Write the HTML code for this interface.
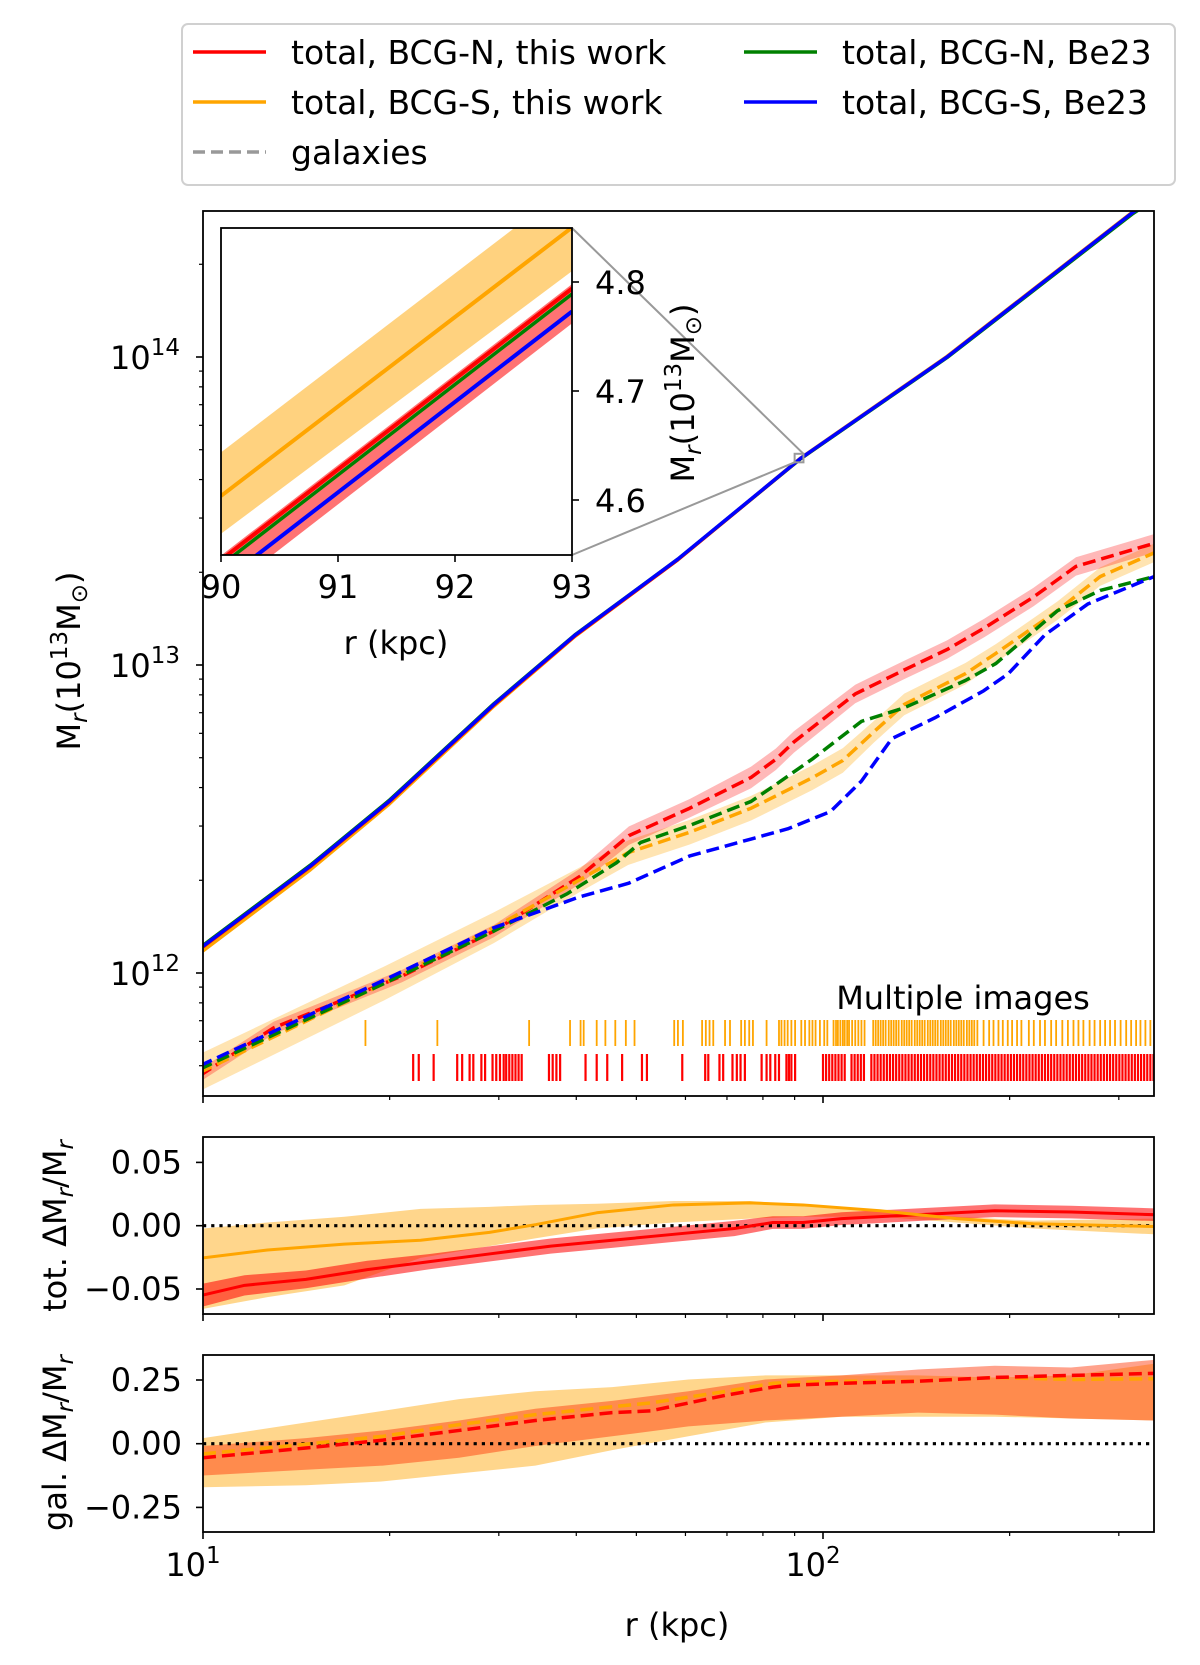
<!DOCTYPE html>
<html><head><meta charset="utf-8"><style>
html,body{margin:0;padding:0;background:#fff;}
svg{display:block;font-family:"DejaVu Sans","Liberation Sans",sans-serif;}
</style></head><body>
<svg id="fig" width="1200" height="1665" viewBox="0 0 1200 1665" xmlns="http://www.w3.org/2000/svg">
<defs>
<clipPath id="cMain"><rect x="203" y="211" width="951" height="885"/></clipPath>
<clipPath id="cIn"><rect x="221" y="228" width="351" height="327"/></clipPath>
<clipPath id="cTot"><rect x="203" y="1137" width="951" height="177"/></clipPath>
<clipPath id="cGal"><rect x="203" y="1355" width="951" height="177"/></clipPath>
</defs>
<g id="legend">
<rect x="182" y="24" width="993" height="161" rx="6" fill="#fff" stroke="#d0d0d0" stroke-width="2"/>
<g><line x1="193" y1="52" x2="266" y2="52" stroke="#ff0000" stroke-width="3.5"/><text x="291" y="64" font-size="33">total, BCG-N, this work</text></g>
<g><line x1="193" y1="102" x2="266" y2="102" stroke="#ffa500" stroke-width="3.5"/><text x="291" y="114" font-size="33">total, BCG-S, this work</text></g>
<g><line x1="193" y1="152" x2="266" y2="152" stroke="#999" stroke-width="3.5" stroke-dasharray="12,6"/><text x="291" y="164" font-size="33">galaxies</text></g>
<g><line x1="744" y1="52" x2="817" y2="52" stroke="#008000" stroke-width="3.5"/><text x="842" y="64" font-size="33">total, BCG-N, Be23</text></g>
<g><line x1="744" y1="102" x2="817" y2="102" stroke="#0000ff" stroke-width="3.5"/><text x="842" y="114" font-size="33">total, BCG-S, Be23</text></g>
</g>
<g id="main"></g>
<g id="tot"></g>
<g id="gal"></g>
<g id="inset"></g>
<g id="labels">
<text transform="translate(80,661) rotate(-90)" text-anchor="middle" font-size="32">M<tspan font-style="italic" font-size="23" dy="7">r</tspan><tspan dy="-7">(10</tspan><tspan font-size="23" dy="-13">13</tspan><tspan dy="13">M</tspan><tspan font-size="23" dy="7">⊙</tspan><tspan dy="-7">)</tspan></text>
<text transform="translate(66,1226) rotate(-90)" text-anchor="middle" font-size="32">tot. ΔM<tspan font-style="italic" font-size="23" dy="7">r</tspan><tspan dy="-7">/M</tspan><tspan font-style="italic" font-size="23" dy="7">r</tspan></text>
<text transform="translate(66,1443) rotate(-90)" text-anchor="middle" font-size="32">gal. ΔM<tspan font-style="italic" font-size="23" dy="7">r</tspan><tspan dy="-7">/M</tspan><tspan font-style="italic" font-size="23" dy="7">r</tspan></text>
<text x="677" y="1636" text-anchor="middle" font-size="32">r (kpc)</text>
<text x="396" y="654" text-anchor="middle" font-size="32">r (kpc)</text>
<text transform="translate(694,393) rotate(-90)" text-anchor="middle" font-size="32">M<tspan font-style="italic" font-size="23" dy="7">r</tspan><tspan dy="-7">(10</tspan><tspan font-size="23" dy="-13">13</tspan><tspan dy="13">M</tspan><tspan font-size="23" dy="7">⊙</tspan><tspan dy="-7">)</tspan></text>
<text x="963" y="1009" text-anchor="middle" font-size="32">Multiple images</text>
</g>
</svg>
<script>
// ---------- data (log10 r [kpc], log10 M [Msun]) ----------
const totR = [1.0,1.173,1.3,1.469,1.6,1.766,1.964,2.2,2.5,2.534];
const totRed = [12.085,12.345,12.555,12.87,13.095,13.342,13.67,14.0,14.47,14.515];
const totOrange = [12.072,12.335,12.548,12.866,13.093,13.342,13.672,14.002,14.472,14.517];
const totGreen = [12.09,12.35,12.56,12.874,13.098,13.344,13.67,13.998,14.466,14.51];
const totBlue = [12.087,12.347,12.557,12.872,13.097,13.344,13.671,14.0,14.47,14.515];

const galRedR = [0.995,1.114,1.321,1.469,1.608,1.687,1.785,1.884,1.924,1.953,2.052,2.131,2.2,2.26,2.339,2.408,2.534];
const galRed = [11.667,11.822,11.99,12.136,12.314,12.446,12.535,12.635,12.694,12.75,12.906,12.984,13.05,13.12,13.22,13.32,13.395];
const galRedErr = [0.02,0.02,0.02,0.02,0.025,0.03,0.03,0.035,0.035,0.035,0.03,0.03,0.03,0.03,0.03,0.03,0.03];
const galGreenR = [0.995,1.291,1.469,1.588,1.667,1.706,1.785,1.884,1.924,1.983,2.062,2.131,2.23,2.279,2.378,2.447,2.534];
const galGreen = [11.688,11.965,12.136,12.258,12.358,12.424,12.479,12.557,12.612,12.695,12.817,12.861,12.95,13.005,13.176,13.242,13.287];
const galBlueR = [0.995,1.291,1.469,1.607,1.686,1.785,1.884,1.943,2.012,2.062,2.111,2.18,2.259,2.299,2.358,2.427,2.534];
const galBlue = [11.699,11.976,12.147,12.247,12.291,12.38,12.435,12.468,12.524,12.623,12.761,12.828,12.916,12.972,13.098,13.198,13.287];
const galOrangeR = [0.995,1.291,1.469,1.607,1.686,1.785,1.884,1.983,2.032,2.082,2.131,2.23,2.279,2.378,2.447,2.534];
const galOrange = [11.677,11.965,12.147,12.302,12.391,12.457,12.535,12.634,12.69,12.783,12.872,12.972,13.038,13.176,13.287,13.364];
const galOrangeErr = [0.06,0.055,0.05,0.04,0.04,0.04,0.04,0.04,0.04,0.035,0.035,0.035,0.03,0.03,0.03,0.03];

const imgS = [1.262,1.378,1.526,1.592,1.609,1.614,1.635,1.649,1.665,1.682,1.696,1.760,1.766,1.774,1.805,1.811,1.817,1.823,1.842,1.850,1.868,1.874,1.881,1.887,1.909,1.929,1.933,1.938,1.943,1.949,1.955,1.965,1.971,1.978,1.983,1.988,1.995,2.002,2.007,2.017,2.021,2.024,2.028,2.032,2.035,2.039,2.042,2.047,2.052,2.057,2.062,2.067,2.081,2.085,2.089,2.093,2.097,2.101,2.106,2.110,2.114,2.118,2.122,2.127,2.131,2.135,2.139,2.143,2.148,2.152,2.156,2.160,2.164,2.169,2.173,2.177,2.181,2.185,2.190,2.194,2.198,2.202,2.206,2.211,2.215,2.219,2.223,2.227,2.232,2.236,2.240,2.244,2.249,2.259,2.268,2.275,2.283,2.290,2.298,2.305,2.313,2.320,2.332,2.340,2.350,2.358,2.368,2.376,2.386,2.395,2.404,2.412,2.420,2.430,2.438,2.447,2.455,2.463,2.471,2.480,2.489,2.497,2.505,2.512,2.520,2.528];
const imgN = [1.339,1.348,1.372,1.410,1.418,1.430,1.436,1.449,1.455,1.467,1.473,1.479,1.485,1.489,1.494,1.499,1.504,1.509,1.514,1.558,1.564,1.570,1.576,1.617,1.635,1.652,1.676,1.708,1.716,1.773,1.810,1.815,1.833,1.839,1.854,1.861,1.867,1.874,1.901,1.909,1.915,1.923,1.929,1.941,1.945,1.949,1.955,2.000,2.005,2.010,2.015,2.020,2.025,2.030,2.035,2.046,2.051,2.056,2.061,2.066,2.078,2.083,2.088,2.093,2.098,2.103,2.108,2.113,2.118,2.123,2.128,2.133,2.138,2.143,2.148,2.153,2.158,2.163,2.168,2.173,2.178,2.183,2.188,2.193,2.198,2.203,2.208,2.213,2.218,2.223,2.228,2.233,2.238,2.243,2.248,2.253,2.258,2.263,2.268,2.273,2.278,2.283,2.288,2.293,2.298,2.303,2.308,2.313,2.318,2.323,2.328,2.333,2.338,2.343,2.348,2.353,2.358,2.363,2.368,2.373,2.378,2.383,2.388,2.393,2.398,2.403,2.408,2.413,2.418,2.423,2.428,2.433,2.438,2.443,2.448,2.453,2.458,2.463,2.468,2.473,2.478,2.483,2.488,2.493,2.498,2.503,2.508,2.513,2.518,2.523,2.528,2.533];

// tot residual panel
const resTotR = [1.0,1.067,1.166,1.265,1.364,1.462,1.561,1.660,1.759,1.857,1.919,1.968,2.030,2.153,2.277,2.400,2.534];
const resTotRed = [-0.0548,-0.0471,-0.0424,-0.0347,-0.0285,-0.0223,-0.0161,-0.0115,-0.0068,-0.0022,0.0025,0.0025,0.0056,0.0087,0.0118,0.0108,0.0087];
const resTotRedErr = [0.009,0.008,0.007,0.007,0.006,0.006,0.006,0.006,0.006,0.006,0.005,0.005,0.005,0.005,0.005,0.005,0.005];
const resTotOR = [1.0,1.104,1.228,1.351,1.462,1.537,1.635,1.759,1.882,1.968,2.092,2.215,2.339,2.534];
const resTotOrange = [-0.0254,-0.0192,-0.0146,-0.0115,-0.0053,0.0009,0.0102,0.0164,0.018,0.0164,0.0118,0.0056,0.0015,-0.0006];
const resTotOHi = [-0.0022,0.0025,0.0071,0.0133,0.0149,0.0164,0.0173,0.0195,0.0195,0.0164,0.0118,0.0071,0.004,0.0056];
const resTotOLo = [-0.0657,-0.0564,-0.0471,-0.0254,-0.0161,-0.0099,-0.0022,0.0025,0.0056,0.0071,0.0071,0.0025,-0.0022,-0.0068];

// gal residual panel
const resGalR = [1.0,1.166,1.29,1.413,1.536,1.66,1.722,1.845,1.919,1.944,2.03,2.153,2.277,2.4,2.534];
const resGalRed = [-0.055,-0.017,0.014,0.052,0.091,0.122,0.129,0.191,0.222,0.229,0.237,0.245,0.26,0.268,0.276];
const resGalOrange = [-0.04,-0.002,0.029,0.075,0.114,0.145,0.16,0.206,0.237,0.24,0.245,0.245,0.26,0.252,0.255];
const resBandR = [1.0,1.166,1.29,1.413,1.536,1.66,1.783,1.907,2.03,2.153,2.277,2.4,2.534];
const resGalRHi = [-0.009,0.022,0.052,0.091,0.137,0.168,0.206,0.252,0.268,0.291,0.306,0.299,0.329];
const resGalRLo = [-0.125,-0.102,-0.086,-0.055,-0.009,0.029,0.068,0.091,0.106,0.122,0.114,0.099,0.091];
const resGalOHi = [0.022,0.083,0.129,0.175,0.206,0.222,0.252,0.268,0.268,0.268,0.26,0.268,0.314];
const resGalOLo = [-0.171,-0.163,-0.148,-0.117,-0.086,-0.025,0.029,0.083,0.106,0.106,0.106,0.099,0.091];

// inset (linear, kpc vs 1e13 Msun)
const inR = [90,93];
const inRed = [4.545,4.794];
const inRedHi = [4.549,4.798];
const inRedLo = [4.513,4.762];
const inGreen = [4.540,4.789];
const inBlue = [4.524,4.773];
const inOrange = [4.6037,4.85];
const inOrangeLo = [4.569,4.810];

const xTickLabels = ["10","10"];
const xTickExp = ["1","2"];
const mainYTicks = [12,13,14];
const totYTicks = [0.05,0,-0.05];
const totYLabels = ["0.05","0.00","\u22120.05"];
const galYTicks = [0.25,0,-0.25];
const galYLabels = ["0.25","0.00","\u22120.25"];
const inXTicks = [90,91,92,93];
const inYTicks = [4.6,4.7,4.8];

// ---------- scales ----------
const X0=203, X1=1154;
const xs = lr => X0 + (lr-1)*620;
const ysMain = lm => 973 - (lm-12)*308;
const ysTot = v => 1225.7 - v*1266;
const ysGal = v => 1443.7 - v*254.8;
const xsIn = r => 221 + (r-90)*117;
const ysIn = m => 500 - (m-4.6)*1090;
const NS="http://www.w3.org/2000/svg";
function el(tag, attrs, parent){const e=document.createElementNS(NS,tag);for(const k in attrs)e.setAttribute(k,attrs[k]);parent.appendChild(e);return e;}
function pathD(xa,ya,fx,fy){return xa.map((x,i)=>(i?'L':'M')+fx(x).toFixed(2)+','+fy(ya[i]).toFixed(2)).join('');}
function bandD(xa,hi,lo,fx,fy){let d=xa.map((x,i)=>(i?'L':'M')+fx(x).toFixed(2)+','+fy(hi[i]).toFixed(2)).join('');for(let i=xa.length-1;i>=0;i--)d+='L'+fx(xa[i]).toFixed(2)+','+fy(lo[i]).toFixed(2);return d+'Z';}

function logXAxis(g, yb, ytop, labels){
  for(let d=1; d<=2; d++){
    for(let k=1;k<=9;k++){
      const lr=d+Math.log10(k); if(lr>2.535) continue;
      const x=xs(lr); const L=(k===1)?7:4;
      const t=el('line',{x1:x,y1:yb,x2:x,y2:yb+L,stroke:'#000','stroke-width':k===1?1.6:1.2},g);
      
      
    }
  }
  if(labels){
    [1,2].forEach((d,i)=>{
      const t=el('text',{x:xs(d)-10,y:yb+44,'text-anchor':'middle','font-size':32},g);
      
      
      t.textContent=xTickLabels[i];
      const s=el('tspan',{'font-size':23,dy:-13},t); s.textContent=xTickExp[i];
    });
  }
}

// ---------- main panel ----------
const gm=document.getElementById('main');
const mc=el('g',{'clip-path':'url(#cMain)'},gm);
function addBand(parent,xa,ya,err,fill,op,name){
  const hi=ya.map((v,i)=>v+err[i]), lo=ya.map((v,i)=>v-err[i]);
  const p=el('path',{d:bandD(xa,hi,lo,xs,ysMain),fill:fill,'fill-opacity':op,stroke:'none'},parent);
  
  
}
addBand(mc,galOrangeR,galOrange,galOrangeErr,'#ffa500',0.3,'galaxies-bcg-s-band');
addBand(mc,galRedR,galRed,galRedErr,'#ff0000',0.28,'galaxies-bcg-n-band');
function addLine(parent,xa,ya,fx,fy,col,w,dash,name){
  const a={d:pathD(xa,ya,fx,fy),fill:'none',stroke:col,'stroke-width':w,'stroke-linejoin':'round'};
  if(dash)a['stroke-dasharray']=dash;
  const p=el('path',a,parent);
  
  
}
addLine(mc,galRedR,galRed,xs,ysMain,'#ff0000',3.5,'13,6','galaxies-bcg-n-this-work');
addLine(mc,galOrangeR,galOrange,xs,ysMain,'#ffa500',3.5,'13,6','galaxies-bcg-s-this-work');
addLine(mc,galGreenR,galGreen,xs,ysMain,'#008000',3.5,'13,6','galaxies-bcg-n-be23');
addLine(mc,galBlueR,galBlue,xs,ysMain,'#0000ff',3.5,'13,6','galaxies-bcg-s-be23');
addLine(mc,totR,totOrange,xs,ysMain,'#ffa500',3.5,null,'total-bcg-s-this-work');
addLine(mc,totR,totRed,xs,ysMain,'#ff0000',3.5,null,'total-bcg-n-this-work');
addLine(mc,totR,totGreen,xs,ysMain,'#008000',3.5,null,'total-bcg-n-be23');
addLine(mc,totR,totBlue,xs,ysMain,'#0000ff',3.5,null,'total-bcg-s-be23');
imgS.forEach(v=>{const t=el('line',{x1:xs(v),y1:1020,x2:xs(v),y2:1046,stroke:'#ffa500','stroke-width':1.8},mc);
  
  });
imgN.forEach(v=>{const t=el('line',{x1:xs(v),y1:1054,x2:xs(v),y2:1081,stroke:'#ff0000','stroke-width':2.2},mc);
  
  });
// mark inset box + connectors
el('rect',{x:xs(Math.log10(90)),y:ysMain(Math.log10(4.85e13)),width:xs(Math.log10(93))-xs(Math.log10(90)),height:ysMain(Math.log10(4.55e13))-ysMain(Math.log10(4.85e13)),fill:'none',stroke:'#999','stroke-width':2},gm);
el('line',{x1:572,y1:228,x2:xs(Math.log10(93)),y2:ysMain(Math.log10(4.85e13)),stroke:'#999','stroke-width':2},gm);
el('line',{x1:572,y1:555,x2:xs(Math.log10(90)),y2:ysMain(Math.log10(4.55e13)),stroke:'#999','stroke-width':2},gm);
// y ticks main
for(let d=11; d<=14; d++){
  for(let k=1;k<=9;k++){
    const lm=d+Math.log10(k); if(lm<11.62||lm>14.47) continue;
    const y=ysMain(lm); const L=(k===1)?7:4;
    const t=el('line',{x1:X0,y1:y,x2:X0-L,y2:y,stroke:'#000','stroke-width':k===1?1.6:1.2},gm);
    
    
  }
}
mainYTicks.forEach(v=>{const t=el('text',{x:180,y:ysMain(v)+12,'text-anchor':'end','font-size':32},gm);
  
  
  t.textContent='10';const s=el('tspan',{'font-size':23,dy:-14},t);s.textContent=String(v);});
logXAxis(gm,1096,211,false);
el('rect',{x:X0,y:211,width:X1-X0,height:885,fill:'none',stroke:'#000','stroke-width':1.8},gm);

// ---------- tot panel ----------
const gt=document.getElementById('tot');
const tc=el('g',{'clip-path':'url(#cTot)'},gt);
let p;
p=el('path',{d:bandD(resTotOR,resTotOHi,resTotOLo,xs,ysTot),fill:'#ffa500','fill-opacity':0.45},tc);


p=el('path',{d:bandD(resTotR,resTotRed.map((v,i)=>v+resTotRedErr[i]),resTotRed.map((v,i)=>v-resTotRedErr[i]),xs,ysTot),fill:'#ff0000','fill-opacity':0.55},tc);


el('line',{x1:X0,y1:ysTot(0),x2:X1,y2:ysTot(0),stroke:'#000','stroke-width':3.2,'stroke-dasharray':'3.2,5'},tc);
addLine(tc,resTotR,resTotRed,xs,ysTot,'#ff0000',3,null,'tot-bcg-n-residual');
addLine(tc,resTotOR,resTotOrange,xs,ysTot,'#ffa500',3,null,'tot-bcg-s-residual');
totYTicks.forEach((v,i)=>{el('line',{x1:X0,y1:ysTot(v),x2:X0-7,y2:ysTot(v),stroke:'#000','stroke-width':1.6},gt);
  const t=el('text',{x:182,y:ysTot(v)+11,'text-anchor':'end','font-size':32},gt);
  
  
  t.textContent=totYLabels[i];});
logXAxis(gt,1314,1137,false);
el('rect',{x:X0,y:1137,width:X1-X0,height:177,fill:'none',stroke:'#000','stroke-width':1.8},gt);

// ---------- gal panel ----------
const gg=document.getElementById('gal');
const gc=el('g',{'clip-path':'url(#cGal)'},gg);
p=el('path',{d:bandD(resBandR,resGalOHi,resGalOLo,xs,ysGal),fill:'#ffa500','fill-opacity':0.45},gc);


p=el('path',{d:bandD(resBandR,resGalRHi,resGalRLo,xs,ysGal),fill:'#ff3000','fill-opacity':0.45},gc);


el('line',{x1:X0,y1:ysGal(0),x2:X1,y2:ysGal(0),stroke:'#000','stroke-width':3.2,'stroke-dasharray':'3.2,5'},gc);
addLine(gc,resGalR,resGalOrange,xs,ysGal,'#ffa500',3.5,'13,6','gal-bcg-s-residual');
addLine(gc,resGalR,resGalRed,xs,ysGal,'#ff0000',3.5,'13,6','gal-bcg-n-residual');
galYTicks.forEach((v,i)=>{el('line',{x1:X0,y1:ysGal(v),x2:X0-7,y2:ysGal(v),stroke:'#000','stroke-width':1.6},gg);
  const t=el('text',{x:182,y:ysGal(v)+11,'text-anchor':'end','font-size':32},gg);
  
  
  t.textContent=galYLabels[i];});
logXAxis(gg,1532,1355,true);
el('rect',{x:X0,y:1355,width:X1-X0,height:177,fill:'none',stroke:'#000','stroke-width':1.8},gg);

// ---------- inset ----------
const gi=document.getElementById('inset');
el('rect',{x:221,y:228,width:351,height:327,fill:'#fff'},gi);
const ic=el('g',{'clip-path':'url(#cIn)'},gi);
p=el('path',{d:bandD(inR,inOrange.map(v=>v+0.04),inOrangeLo,xsIn,ysIn),fill:'#ffa500','fill-opacity':0.5},ic);


p=el('path',{d:bandD(inR,inRedHi,inRedLo,xsIn,ysIn),fill:'#ff0000','fill-opacity':0.55},ic);


addLine(ic,inR,inOrange,xsIn,ysIn,'#ffa500',4,null,'inset-total-bcg-s');
addLine(ic,inR,inRed,xsIn,ysIn,'#ff0000',4,null,'inset-total-bcg-n');
addLine(ic,inR,inGreen,xsIn,ysIn,'#008000',3.5,null,'inset-total-bcg-n-be23');
addLine(ic,inR,inBlue,xsIn,ysIn,'#0000ff',4,null,'inset-total-bcg-s-be23');
inXTicks.forEach(v=>{el('line',{x1:xsIn(v),y1:555,x2:xsIn(v),y2:562,stroke:'#000','stroke-width':1.6},gi);
  const t=el('text',{x:xsIn(v),y:598,'text-anchor':'middle','font-size':32},gi);
  
  
  t.textContent=String(v);});
inYTicks.forEach(v=>{el('line',{x1:572,y1:ysIn(v),x2:579,y2:ysIn(v),stroke:'#000','stroke-width':1.6},gi);
  const t=el('text',{x:595,y:ysIn(v)+12,'font-size':32},gi);
  
  
  t.textContent=v.toFixed(1);});
el('rect',{x:221,y:228,width:351,height:327,fill:'none',stroke:'#000','stroke-width':1.8},gi);
</script>
</body></html>
